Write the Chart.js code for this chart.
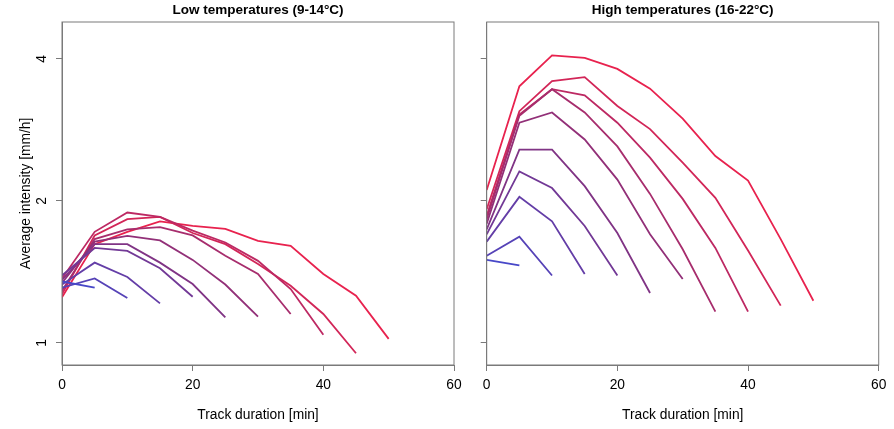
<!DOCTYPE html>
<html>
<head>
<meta charset="utf-8">
<script src="https://cdn.jsdelivr.net/npm/chart.js@4/dist/chart.umd.min.js"></script>
<style>
  html, body { margin: 0; padding: 0; background: #fff; }
  #wrap { position: relative; width: 894px; height: 429px; overflow: hidden; }
  canvas { position: absolute; top: 0; }
  #lowChart { left: 0; }
  #highChart { left: 460px; }
</style>
</head>
<body>
<div id="wrap">
  <canvas id="lowChart" width="480" height="429"></canvas>
  <canvas id="highChart" width="434" height="429"></canvas>
</div>
<script>
// track duration (min) at each point of a curve
const trackMinutes = [0, 5, 10, 15, 20, 25, 30, 35, 40, 45, 50];
const xTicks = [0, 20, 40, 60];
const yTicks = [1, 2, 4];

// average intensity (mm/h), one curve per track length 5 ... 50 min
const lowIntensity = [
  [1.35, 1.31],
  [1.31, 1.37, 1.245],
  [1.33, 1.48, 1.38, 1.213],
  [1.39, 1.59, 1.567, 1.44, 1.253],
  [1.36, 1.62, 1.62, 1.48, 1.333, 1.133],
  [1.34, 1.64, 1.686, 1.65, 1.50, 1.33, 1.137],
  [1.29, 1.66, 1.74, 1.76, 1.69, 1.53, 1.40, 1.152],
  [1.37, 1.72, 1.89, 1.85, 1.73, 1.633, 1.493, 1.301, 1.041],
  [1.27, 1.69, 1.83, 1.85, 1.71, 1.62, 1.47, 1.322, 1.152, 0.951],
  [1.25, 1.62, 1.72, 1.81, 1.77, 1.745, 1.646, 1.606, 1.40, 1.259, 1.02]
];
const highIntensity = [
  [1.50, 1.46],
  [1.53, 1.68, 1.39],
  [1.64, 2.04, 1.81, 1.40],
  [1.70, 2.31, 2.13, 1.77, 1.39],
  [1.74, 2.57, 2.57, 2.15, 1.71, 1.276],
  [1.79, 2.93, 3.08, 2.70, 2.22, 1.70, 1.366],
  [1.83, 3.03, 3.45, 3.08, 2.61, 2.07, 1.58, 1.165],
  [1.86, 3.05, 3.45, 3.35, 2.93, 2.47, 2.02, 1.59, 1.165],
  [1.92, 3.10, 3.59, 3.66, 3.18, 2.84, 2.41, 2.03, 1.57, 1.20],
  [2.11, 3.50, 4.07, 4.02, 3.81, 3.46, 2.99, 2.49, 2.21, 1.66, 1.229]
];

const FONT = 'Liberation Sans, Arial, sans-serif';
const AXIS_GREY = '#7a7a7a';
const LABEL_SIZE = 13.8;

// blue -> purple -> red
function lineColor(i, n) {
  const stops = [[72, 72, 200], [135, 50, 125], [232, 34, 78]];
  const t = i / (n - 1) * 2;
  const k = Math.min(1, Math.floor(t));
  const f = t - k;
  const a = stops[k], b = stops[k + 1];
  const c = a.map((v, j) => Math.round(v + (b[j] - v) * f));
  return 'rgb(' + c.join(',') + ')';
}

function makeDatasets(series) {
  return series.map((vals, i) => ({
    data: vals.map((v, j) => ({ x: trackMinutes[j], y: v })),
    borderColor: lineColor(i, series.length),
    borderWidth: 1.8,
    pointRadius: 0,
    tension: 0,
    fill: false
  }));
}

// box round the plot + panel title + rotated y tick labels
const framePlugin = {
  id: 'frame',
  afterDraw(chart, args, opts) {
    const { ctx, chartArea } = chart;
    ctx.save();
    ctx.strokeStyle = AXIS_GREY;
    ctx.lineWidth = 1;
    ctx.strokeRect(chartArea.left, chartArea.top,
      chartArea.right - chartArea.left, chartArea.bottom - chartArea.top);
    ctx.fillStyle = '#000';
    ctx.font = 'bold 13.5px ' + FONT;
    ctx.textAlign = 'center';
    ctx.textBaseline = 'middle';
    ctx.fillText(opts.title, (chartArea.left + chartArea.right) / 2, 10);
    if (opts.yLabels) {
      const ys = chart.scales.y;
      ctx.font = LABEL_SIZE + 'px ' + FONT;
      yTicks.forEach(v => {
        ctx.save();
        ctx.translate(42.5, ys.getPixelForValue(v));
        ctx.rotate(-Math.PI / 2);
        ctx.fillText(String(v), 0, 0);
        ctx.restore();
      });
    }
    ctx.restore();
  }
};

function makeChart(id, series, title, withYLabels, yAxisWidth, padRight) {
  return new Chart(document.getElementById(id), {
    type: 'line',
    data: { datasets: makeDatasets(series) },
    options: {
      responsive: false,
      animation: false,
      layout: { padding: { top: 22, right: padRight, left: 0, bottom: 0 } },
      plugins: {
        legend: { display: false },
        tooltip: { enabled: false },
        frame: { title: title, yLabels: withYLabels }
      },
      scales: {
        x: {
          type: 'linear',
          min: 0,
          max: 60,
          afterBuildTicks: s => { s.ticks = xTicks.map(v => ({ value: v })); },
          ticks: { color: '#000', font: { family: FONT, size: LABEL_SIZE }, padding: 6, maxRotation: 0 },
          grid: { drawOnChartArea: false, drawTicks: true, tickLength: 6, color: AXIS_GREY },
          border: { display: true, color: AXIS_GREY },
          title: {
            display: true,
            text: 'Track duration [min]',
            color: '#000',
            font: { family: FONT, size: LABEL_SIZE },
            padding: { top: 0, bottom: 5.7 }
          },
          afterFit: s => { s.height = 64; }
        },
        y: {
          type: 'logarithmic',
          min: 0.898,
          max: 4.79,
          afterBuildTicks: s => { s.ticks = yTicks.map(v => ({ value: v })); },
          ticks: { callback: () => '', padding: 0 },
          grid: { drawOnChartArea: false, drawTicks: true, tickLength: 6, color: AXIS_GREY },
          border: { display: true, color: AXIS_GREY },
          title: {
            display: withYLabels,
            text: 'Average intensity [mm/h]',
            color: '#000',
            font: { family: FONT, size: LABEL_SIZE },
            padding: { top: 17.7, bottom: 0 }
          },
          afterFit: s => { s.width = yAxisWidth; }
        }
      }
    },
    plugins: [framePlugin]
  });
}

makeChart('lowChart', lowIntensity, 'Low temperatures (9-14°C)', true, 62, 26);
makeChart('highChart', highIntensity, 'High temperatures (16-22°C)', false, 26.7, 15.3);
</script>
</body>
</html>
